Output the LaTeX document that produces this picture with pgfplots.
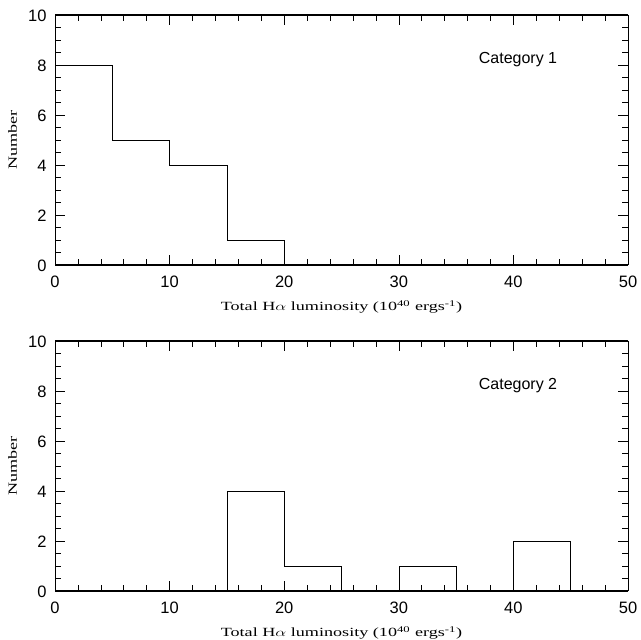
\documentclass[border=0pt]{standalone}
\usepackage{fontspec}
\usepackage{graphicx}
\usepackage{pgfplots}
\pgfplotsset{compat=1.18}
\newfontfamily\lserif{Liberation Serif}
\newfontfamily\lsans{Liberation Sans}
\newcommand{\wide}[1]{\scalebox{1.45}[1]{#1}}
\newcommand{\tickfont}{\lsans\fontsize{16.5bp}{19bp}\selectfont}
\newcommand{\labfont}{\lserif\fontsize{12.5bp}{15bp}\selectfont}
\newcommand{\catfont}{\lsans\fontsize{16bp}{19bp}\selectfont}
\pgfplotsset{
  hstyle/.style={
    scale only axis, width=573bp, height=250bp,
    xmin=0, xmax=50, ymin=0, ymax=10,
    xtick={0,10,...,50}, minor x tick num=4,
    ytick={0,2,...,10}, minor y tick num=3,
    tick align=inside, xtick pos=both, ytick pos=both,
    major tick length=10bp, minor tick length=6bp,
    tick style={black, line width=0.6pt},
    separate axis lines,
    x axis line style={line width=1.5pt},
    y axis line style={line width=0.8pt},
    /pgf/number format/assume math mode=true,
    tick label style={font=\tickfont},
    xticklabel style={yshift=-7bp},
    yticklabel style={xshift=-5bp, yshift=-1bp},
    xlabel={\wide{Total H$\alpha$ luminosity (10\textsuperscript{40} ergs\textsuperscript{-1})}},
    ylabel={\wide{Number}},
    label style={font=\labfont},
    xlabel style={at={(axis description cs:0.5,-0.182)}, anchor=base},
    ylabel style={at={(axis description cs:-0.074,0.5)}, anchor=center},
    every axis plot post/.append style={black, mark=none, line width=0.6pt},
  }
}
\begin{document}
\begin{tikzpicture}[x=1bp,y=1bp]
\useasboundingbox (0,0) rectangle (640,640);
\begin{axis}[hstyle, at={(55bp,375bp)}, anchor=south west]
\addplot[const plot mark left] coordinates {(0,8) (5,5) (10,4) (15,1) (20,0)};
\node[font=\catfont] at (axis cs:40.4,8.2) {Category 1};
\end{axis}
\begin{axis}[hstyle, at={(55bp,49bp)}, anchor=south west]
\addplot[const plot mark left] coordinates {(0,0) (15,4) (20,1) (25,0) (30,1) (35,0) (40,2) (45,0) (50,0)};
\node[font=\catfont] at (axis cs:40.4,8.2) {Category 2};
\end{axis}
\end{tikzpicture}
\end{document}
